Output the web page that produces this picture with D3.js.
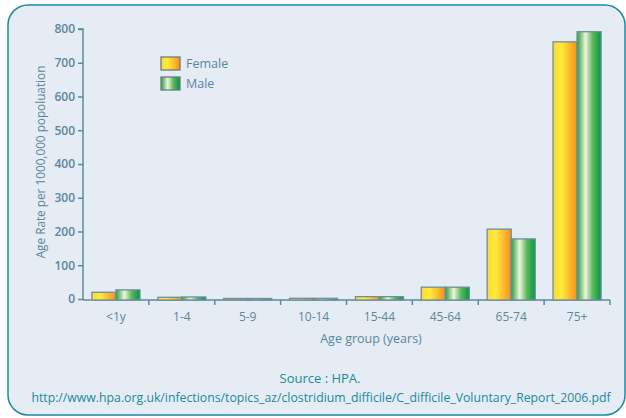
<!DOCTYPE html>
<html><head><meta charset="utf-8">
<script src="https://cdn.jsdelivr.net/npm/d3@7"></script>
<style>
body{margin:0;background:#fff;}
text{font-family:"Open Sans","Liberation Sans",sans-serif;}
</style></head>
<body><svg id="c" width="626" height="418"></svg>
<script>
const categories = ["<1y","1-4","5-9","10-14","15-44","45-64","65-74","75+"];
const female = [20, 5, 1.5, 2, 7, 35, 207, 762];
const male   = [27, 6, 1.5, 2, 7, 35, 178, 792];
const series = ["Female","Male"];
const yTicks = [0,100,200,300,400,500,600,700,800];

const svg = d3.select("#c");
const defs = svg.append("defs");
const gf = defs.append("linearGradient").attr("id","gF").attr("x1","0").attr("x2","1").attr("y1","0").attr("y2","0");
gf.append("stop").attr("offset","0%").attr("stop-color","#fdd835");
gf.append("stop").attr("offset","35%").attr("stop-color","#ffeb3b");
gf.append("stop").attr("offset","100%").attr("stop-color","#f7901e");
const gm = defs.append("linearGradient").attr("id","gM").attr("x1","0").attr("x2","1").attr("y1","0").attr("y2","0");
gm.append("stop").attr("offset","0%").attr("stop-color","#2a9d3c");
gm.append("stop").attr("offset","35%").attr("stop-color","#eef5dc");
gm.append("stop").attr("offset","65%").attr("stop-color","#5cb85c");
gm.append("stop").attr("offset","100%").attr("stop-color","#009640");

// panel
svg.append("rect").attr("x",8).attr("y",5).attr("width",617).attr("height",410)
  .attr("rx",20).attr("fill","#e5ecf3").attr("stroke","#1a8aa0").attr("stroke-width",1.5);

const axisCol = "#5b8aa0", txtCol = "#5b86a0";
const y = d3.scaleLinear().domain([0,800]).range([299,29]);
const x = d3.scaleBand().domain(categories).range([83,610]).paddingInner(0.27).paddingOuter(0.135);
const xs = d3.scaleBand().domain(series).range([0,x.bandwidth()]);
const vals = {Female:female, Male:male};

const yAxis = svg.append("g").attr("transform","translate(83,0)")
  .call(d3.axisLeft(y).tickValues(yTicks).tickSize(5).tickPadding(3));
yAxis.select(".domain").attr("stroke",axisCol).attr("stroke-width",1.5).attr("d","M-5,29H0V300");
yAxis.selectAll(".tick line").attr("stroke",axisCol).attr("stroke-width",1.5);
yAxis.selectAll(".tick text").attr("fill",txtCol).attr("font-size",12).attr("font-weight",600);

// x axis
const xg = svg.append("g");
xg.append("line").attr("x1",83).attr("x2",610).attr("y1",300).attr("y2",300).attr("stroke",axisCol).attr("stroke-width",1.5);
const bounds = categories.map(c => x(c) - x.step()*x.paddingOuter()).concat([610]);
xg.selectAll(".xt").data(bounds.slice(1)).join("line")
  .attr("x1",d=>d).attr("x2",d=>d).attr("y1",300).attr("y2",305).attr("stroke",axisCol).attr("stroke-width",1.5);
xg.selectAll(".xl").data(categories).join("text")
  .attr("x",d=>x(d)+x.bandwidth()/2).attr("y",321).attr("text-anchor","middle")
  .attr("fill",txtCol).attr("font-size",12).text(d=>d);

// bars
categories.forEach((c,i)=>{
  series.forEach(s=>{
    const v = vals[s][i];
    svg.append("rect").attr("x",x(c)+xs(s)).attr("width",xs.bandwidth())
      .attr("y",y(v)).attr("height",y(0)-y(v)+1)
      .attr("fill",s==="Female"?"url(#gF)":"url(#gM)")
      .attr("stroke","#6d8fa0").attr("stroke-width",1.3);
  });
});

// legend
series.forEach((s,i)=>{
  const ly = 57 + i*20;
  svg.append("rect").attr("x",161).attr("y",ly).attr("width",19).attr("height",13)
    .attr("fill",s==="Female"?"url(#gF)":"url(#gM)").attr("stroke","#6e7a80").attr("stroke-width",1.3);
  svg.append("text").attr("x",186).attr("y",ly+11).attr("fill",txtCol).attr("font-size",12.5).text(s);
});

// titles
const yt = svg.append("text").attr("text-anchor","middle")
  .attr("fill",txtCol).attr("font-size",12).text("Age Rate per 1000,000 popoluation");
const ytw = yt.node().getComputedTextLength();
yt.attr("transform",`translate(45,162) rotate(-90) scale(${Math.min(1,193/ytw)},1)`);
svg.append("text").attr("x",371).attr("y",343).attr("text-anchor","middle")
  .attr("fill",txtCol).attr("font-size",12.5).text("Age group (years)");
svg.append("text").attr("x",320).attr("y",383).attr("text-anchor","middle")
  .attr("fill","#1a8aa0").attr("font-size",13).text("Source : HPA.");
const url = svg.append("text").attr("text-anchor","middle")
  .attr("fill","#1a8aa0").attr("font-size",13)
  .text("http://www.hpa.org.uk/infections/topics_az/clostridium_difficile/C_difficile_Voluntary_Report_2006.pdf");
const uw = url.node().getComputedTextLength();
url.attr("transform",`translate(321,402) scale(${Math.min(1,580/uw)},1)`);
</script></body></html>
